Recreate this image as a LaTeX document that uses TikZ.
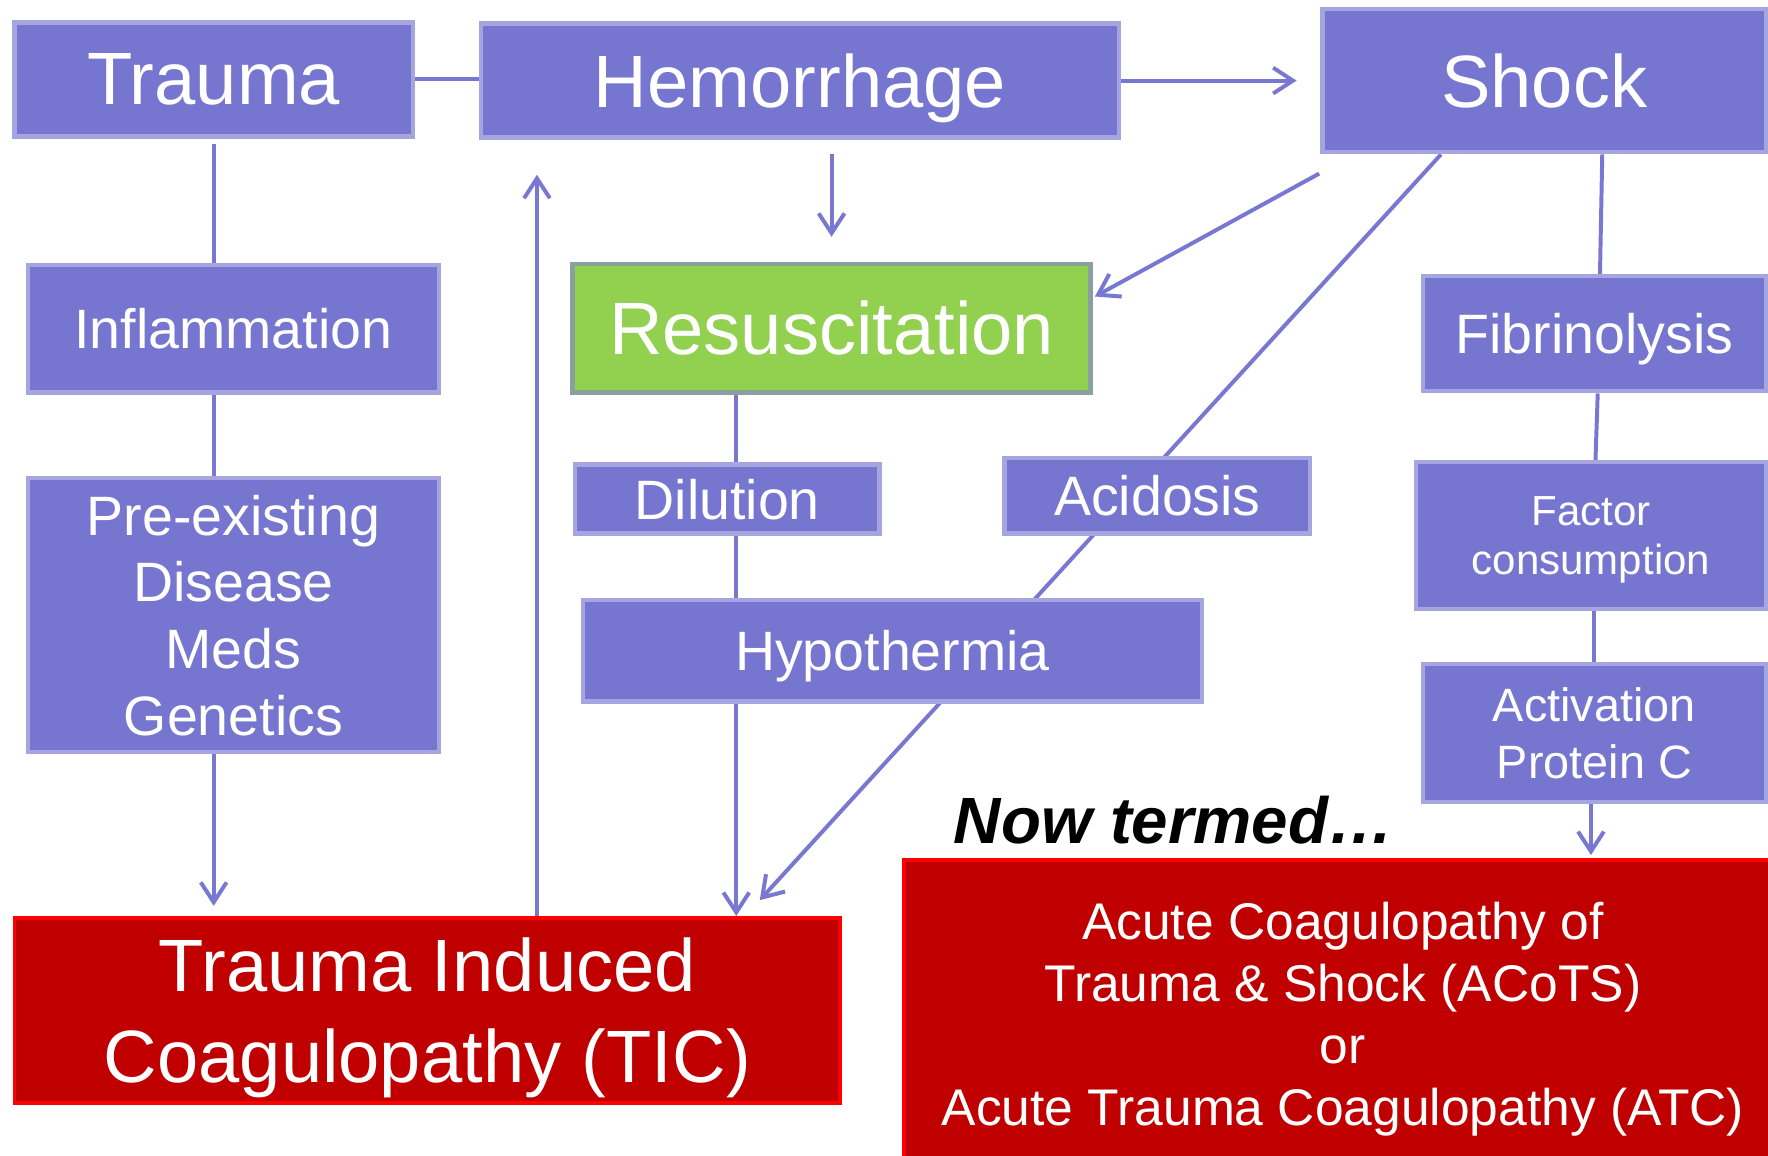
\documentclass[tikz,border=0pt]{standalone}
\usepackage{fontspec}
\setmainfont{Liberation Sans}
\usetikzlibrary{arrows.meta,backgrounds}

\definecolor{boxfill}{RGB}{118,118,208}
\definecolor{boxline}{RGB}{165,165,224}
\definecolor{linkcol}{RGB}{120,120,210}
\definecolor{redfill}{RGB}{192,0,0}
\definecolor{redline}{RGB}{255,0,0}
\definecolor{greenfill}{RGB}{146,208,80}
\definecolor{greenline}{RGB}{138,160,160}

\begin{document}
\begin{tikzpicture}[x=0.01cm, y=-0.01cm,
    box/.style={draw=boxline, fill=boxfill, line width=1.1pt, text=white, align=center, inner sep=0pt, text depth=0pt},
    redbox/.style={draw=redline, fill=redfill, line width=0.9pt, text=white, align=center, inner sep=0pt, text depth=0pt},
    big/.style={font=\fontsize{18.7}{22.8}\selectfont},
    mid/.style={font=\fontsize{14}{16.8}\selectfont},
    link/.style={draw=linkcol, line width=1pt},
    arr/.style={link, -{Straight Barb[length=5pt,width=6.5pt]}}]

    \useasboundingbox (0,0) rectangle (1568,1025);

    % top row
    \node[box, big, minimum width=3.53cm, minimum height=1.01cm] (trauma) at (189.5,70.5) {Trauma};
    \node[box, big, minimum width=5.65cm, minimum height=1.01cm] (hemo) at (709.5,71.5) {Hemorrhage};
    \node[box, big, minimum width=3.93cm, minimum height=1.27cm] (shock) at (1369.5,71.5) {Shock};

    % left column
    \node[box, mid, minimum width=3.64cm, minimum height=1.13cm] (infl) at (207,291.5) {Inflammation};
    \node[box, mid, minimum width=3.64cm, minimum height=2.43cm] (pre) at (207,545.5) {Pre-existing\\Disease\\Meds\\Genetics};

    % middle
    \node[draw=greenline, fill=greenfill, line width=1.1pt, text=white, inner sep=0pt, text depth=0pt, big,
          minimum width=4.59cm, minimum height=1.14cm] (resus) at (737.5,291) {Resuscitation};
    \node[box, mid, minimum width=2.70cm, minimum height=0.61cm] (dil) at (645,442.5) {Dilution};
    \node[box, mid, minimum width=2.71cm, minimum height=0.67cm] (acid) at (1026.5,439.5) {Acidosis};
    \node[box, mid, minimum width=5.49cm, minimum height=0.90cm] (hypo) at (791.5,577) {Hypothermia};

    % right column
    \node[box, mid, minimum width=3.04cm, minimum height=1.02cm] (fib) at (1414,296) {Fibrinolysis};
    \node[box, font=\fontsize{10.6}{12.5}\selectfont, minimum width=3.10cm, minimum height=1.30cm] (fact) at (1411,475) {Factor\\consumption};
    \node[box, font=\fontsize{11.8}{14.2}\selectfont, minimum width=3.04cm, minimum height=1.22cm] (act) at (1414,650) {Activation\\Protein C};

    % results
    \node[redbox, font=\fontsize{18.7}{22.8}\selectfont, minimum width=7.32cm, minimum height=1.64cm] (tic) at (379,896) {Trauma Induced\\Coagulopathy (TIC)};
    \node[redbox, font=\fontsize{13}{15.6}\selectfont, minimum width=7.78cm, minimum height=2.72cm] (acots) at (1191,899)
        {Acute Coagulopathy of\\Trauma \& Shock (ACoTS)\\or\\Acute Trauma Coagulopathy (ATC)};
    \node[font=\fontsize{16.5}{20}\selectfont\bfseries\itshape] (nowterm) at (1041,727) {Now termed…};

    \coordinate (ticup) at ([shift={(465,0)}]tic.north west);
    \coordinate (dilup) at ([shift={(8,0)}]dil.north);

    \begin{scope}[on background layer]
        \fill[white] (0,0) rectangle (1568,1025);

        \draw[link] (trauma.east) -- (trauma.east -| hemo.west);
        \draw[arr, shorten >=0.21cm] (hemo.east) -- (hemo.east -| shock.west);
        \draw[arr, shorten <=0.13cm, shorten >=0.22cm] (resus.north |- hemo.south) -- (resus.north);
        \draw[arr] ([shift={(-1,17)}]shock.south west) -- ([shift={(2,-28)}]resus.east);
        \draw[arr] ([shift={(107,0)}]shock.south west) -- ([shift={(-73,-14)}]tic.north east);

        % left chain
        \draw[link, shorten <=0.05cm] (trauma.south) -- (trauma.south |- infl.north);
        \draw[link] (trauma.south |- infl.south) -- (trauma.south |- pre.north);
        \draw[arr, shorten >=0.09cm] (trauma.south |- pre.south) -- (trauma.south |- tic.north);
        \draw[arr, shorten >=0.31cm] (ticup) -- (ticup |- hemo.south);

        % resuscitation chain
        \draw[link] (dilup |- resus.south) -- (dilup);
        \draw[link] (dilup |- dil.south) -- (dilup |- hypo.north);
        \draw[arr] (dilup |- hypo.south) -- (dilup |- tic.north);

        % shock chain
        \draw[link] ([xshift=0.07cm]shock.south -| fib.north) -- ([xshift=0.05cm]fib.north);
        \draw[link] ([xshift=0.03cm]fib.south) -- ([xshift=0.01cm]fib.south |- fact.north);
        \draw[link] (act.north |- fact.south) -- (act.north);
        \draw[arr, shorten >=0.03cm] ([xshift=-0.03cm]act.south) -- ([xshift=-0.03cm]act.south |- acots.north);
    \end{scope}

\end{tikzpicture}
\end{document}
